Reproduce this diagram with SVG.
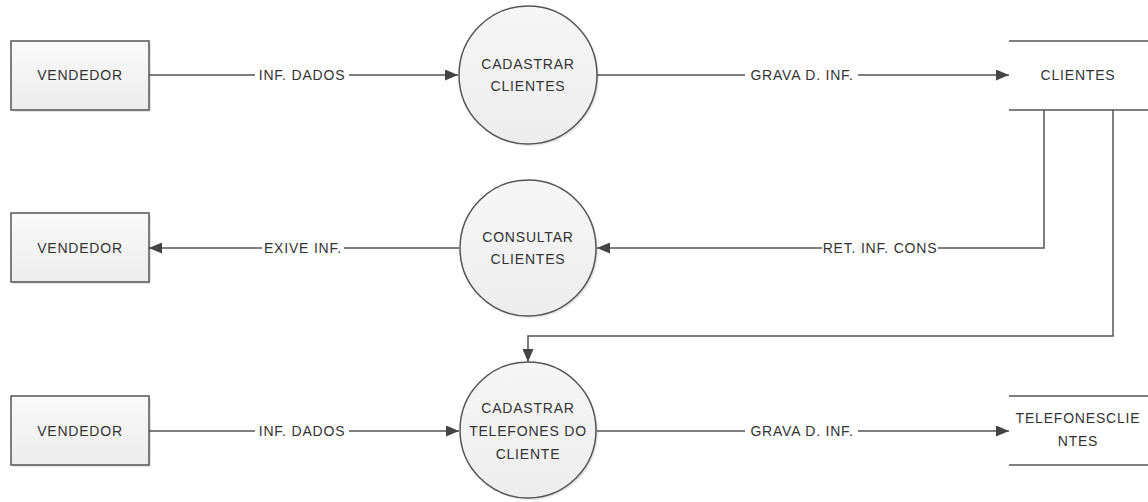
<svg xmlns="http://www.w3.org/2000/svg" width="1148" height="502" viewBox="0 0 1148 502">
<style>
text{font-family:"Liberation Sans",Arial,sans-serif;font-size:14px;fill:#333;letter-spacing:0.8px;text-anchor:middle}
.box{fill:url(#gb);stroke:#555;stroke-width:1.5}
.sh{fill:#000;opacity:0.1}
.circ{fill:url(#gc);stroke:#555;stroke-width:1.5}
.store{stroke:#555;stroke-width:1.5;fill:none}
.con{fill:none;stroke:#555;stroke-width:1.5;marker-end:url(#ah)}
.lbg{fill:#fff}
</style>
<defs>
<linearGradient id="gb" x1="0" y1="0" x2="0" y2="1"><stop offset="0" stop-color="#fafafa"/><stop offset="1" stop-color="#ececec"/></linearGradient>
<linearGradient id="gc" x1="0" y1="0" x2="0" y2="1"><stop offset="0" stop-color="#f6f6f6"/><stop offset="1" stop-color="#ededed"/></linearGradient>
<marker id="ah" markerWidth="13" markerHeight="11" refX="13" refY="5.5" orient="auto" markerUnits="userSpaceOnUse"><path d="M0,0 L13,5.5 L0,11 Z" fill="#444"/></marker>
</defs>
<g id="connectors">
<path class="con" d="M149,75 H458"/>
<path class="con" d="M597,75 H1009"/>
<path class="con" d="M1044,110 V248 H597"/>
<path class="con" d="M459,248 H149"/>
<path class="con" d="M1113,110 V336 H528 V362"/>
<path class="con" d="M149,431 H459"/>
<path class="con" d="M597,431 H1009"/>
<rect class="lbg" x="255" y="67" width="94" height="16"/><text x="302" y="80">INF. DADOS</text>
<rect class="lbg" x="745" y="67" width="113" height="16"/><text x="802" y="80">GRAVA D. INF.</text>
<rect class="lbg" x="822" y="240" width="116" height="16"/><text x="880" y="253">RET. INF. CONS</text>
<rect class="lbg" x="262" y="240" width="82" height="16"/><text x="303" y="253">EXIVE INF.</text>
<rect class="lbg" x="255" y="423" width="94" height="16"/><text x="302" y="436">INF. DADOS</text>
<rect class="lbg" x="745" y="423" width="113" height="16"/><text x="802" y="436">GRAVA D. INF.</text>
</g>
<g id="vendedor1"><rect class="sh" x="13" y="43" width="138" height="69"/><rect class="box" x="11" y="41" width="138" height="69"/><text x="80" y="80">VENDEDOR</text></g>
<g id="vendedor2"><rect class="sh" x="13" y="215" width="138" height="69"/><rect class="box" x="11" y="213" width="138" height="69"/><text x="80" y="253">VENDEDOR</text></g>
<g id="vendedor3"><rect class="sh" x="13" y="398" width="138" height="69"/><rect class="box" x="11" y="396" width="138" height="69"/><text x="80" y="436">VENDEDOR</text></g>
<g id="cadastrar-clientes"><circle class="sh" cx="530" cy="77" r="69"/><circle class="circ" cx="528" cy="75" r="69"/><text x="528" y="69">CADASTRAR</text><text x="528" y="91">CLIENTES</text></g>
<g id="consultar-clientes"><circle class="sh" cx="530" cy="250" r="68"/><circle class="circ" cx="528" cy="248" r="68"/><text x="528" y="242">CONSULTAR</text><text x="528" y="264">CLIENTES</text></g>
<g id="cadastrar-telefones"><circle class="sh" cx="530" cy="432" r="68"/><circle class="circ" cx="528" cy="430" r="68"/><text x="528" y="413">CADASTRAR</text><text x="528" y="436">TELEFONES DO</text><text x="528" y="459">CLIENTE</text></g>
<g id="clientes-store"><path class="store" d="M1009,41 H1148 M1009,110 H1148"/><text x="1078" y="80">CLIENTES</text></g>
<g id="telefones-store"><path class="store" d="M1009,396 H1148 M1009,465 H1148"/><text x="1078" y="423">TELEFONESCLIE</text><text x="1078" y="446">NTES</text></g>
</svg>
